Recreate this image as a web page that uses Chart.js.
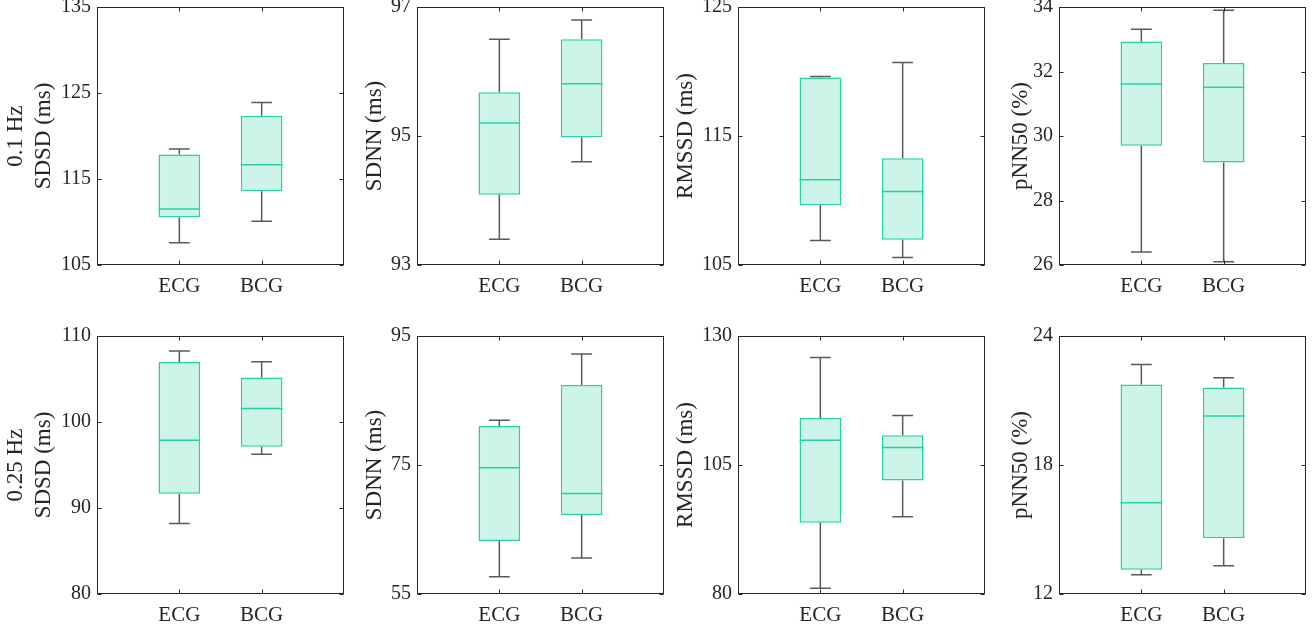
<!DOCTYPE html>
<html>
<head>
<meta charset="utf-8">
<script src="https://cdn.jsdelivr.net/npm/chart.js@4.4.1/dist/chart.umd.min.js"></script>
<style>
  html, body { margin: 0; padding: 0; background: #fff; overflow: hidden; }
  body { position: relative; width: 1314px; height: 629px; }
  .panel { position: absolute; }
</style>
</head>
<body>
<script>
// Box plot data: [lower whisker, Q1, median, Q3, upper whisker]
const categories = ['ECG', 'BCG'];

// 0.1 Hz
const sdsd01Ecg = [107.6, 110.55, 111.5, 117.85, 118.5];
const sdsd01Bcg = [110.1, 113.57, 116.65, 122.35, 123.9];
const sdnn01Ecg = [93.4, 94.09, 95.2, 95.68, 96.5];
const sdnn01Bcg = [94.6, 94.98, 95.81, 96.5, 96.8];
const rmssd01Ecg = [106.9, 109.63, 111.6, 119.54, 119.62];
const rmssd01Bcg = [105.59, 106.96, 110.7, 113.28, 120.7];
const pnn01Ecg = [26.4, 29.7, 31.61, 32.93, 33.31];
const pnn01Bcg = [26.1, 29.18, 31.51, 32.26, 33.9];

// 0.25 Hz
const sdsd025Ecg = [88.2, 91.65, 97.88, 106.98, 108.26];
const sdsd025Bcg = [96.26, 97.11, 101.56, 105.16, 107.02];
const sdnn025Ecg = [57.68, 63.21, 74.56, 81.06, 81.94];
const sdnn025Bcg = [60.57, 67.23, 70.59, 87.41, 92.21];
const rmssd025Ecg = [81.1, 93.81, 109.81, 114.13, 125.81];
const rmssd025Bcg = [94.97, 102.0, 108.39, 110.77, 114.58];
const pnn025Ecg = [12.9, 13.13, 16.24, 21.74, 22.68];
const pnn025Bcg = [13.31, 14.59, 20.28, 21.6, 22.06];

// y tick labels per panel
const ticksSdsd01 = [105, 115, 125, 135];
const ticksSdnn01 = [93, 95, 97];
const ticksRmssd01 = [105, 115, 125];
const ticksPnn01 = [26, 28, 30, 32, 34];
const ticksSdsd025 = [80, 90, 100, 110];
const ticksSdnn025 = [55, 75, 95];
const ticksRmssd025 = [80, 105, 130];
const ticksPnn025 = [12, 18, 24];

const titles = [
  ['0.1 Hz', 'SDSD (ms)'], 'SDNN (ms)', 'RMSSD (ms)', 'pNN50 (%)',
  ['0.25 Hz', 'SDSD (ms)'], 'SDNN (ms)', 'RMSSD (ms)', 'pNN50 (%)'
];

const EDGE = '#22d4a3';
const FILL = '#cdf4e9';
const WHISKER = '#5a5a5a';
const AXIS = '#262626';
const FONT = "'Liberation Serif', 'Times New Roman', serif";

const plotLefts = [97, 417, 738, 1059];
const plotTops = [7, 336];
const plotW = 247, plotH = 258;
const axisW = 97, padTop = 20, axisH = 45, padRight = 10;
const titlePads = [2, 41, 31, 45];

const panels = [
  { ecg: sdsd01Ecg, bcg: sdsd01Bcg, ticks: ticksSdsd01 },
  { ecg: sdnn01Ecg, bcg: sdnn01Bcg, ticks: ticksSdnn01 },
  { ecg: rmssd01Ecg, bcg: rmssd01Bcg, ticks: ticksRmssd01 },
  { ecg: pnn01Ecg, bcg: pnn01Bcg, ticks: ticksPnn01 },
  { ecg: sdsd025Ecg, bcg: sdsd025Bcg, ticks: ticksSdsd025 },
  { ecg: sdnn025Ecg, bcg: sdnn025Bcg, ticks: ticksSdnn025 },
  { ecg: rmssd025Ecg, bcg: rmssd025Bcg, ticks: ticksRmssd025 },
  { ecg: pnn025Ecg, bcg: pnn025Bcg, ticks: ticksPnn025 }
];

// whiskers, medians, frame and inward ticks
function boxParts(stats) {
  return {
    id: 'boxParts',
    afterDatasetsDraw(chart) {
      const { ctx, scales: { y } } = chart;
      const meta = chart.getDatasetMeta(0);
      meta.data.forEach((bar, i) => {
        const s = stats[i];
        if (!s) return;
        const [lo, q1, med, q3, hi] = s;
        const half = bar.width / 2;
        const cap = bar.width / 4;
        ctx.save();
        ctx.lineWidth = 1.5;
        ctx.strokeStyle = WHISKER;
        ctx.beginPath();
        ctx.moveTo(bar.x, y.getPixelForValue(lo));
        ctx.lineTo(bar.x, y.getPixelForValue(q1));
        ctx.moveTo(bar.x, y.getPixelForValue(q3));
        ctx.lineTo(bar.x, y.getPixelForValue(hi));
        ctx.moveTo(bar.x - cap, y.getPixelForValue(lo));
        ctx.lineTo(bar.x + cap, y.getPixelForValue(lo));
        ctx.moveTo(bar.x - cap, y.getPixelForValue(hi));
        ctx.lineTo(bar.x + cap, y.getPixelForValue(hi));
        ctx.stroke();
        ctx.strokeStyle = EDGE;
        ctx.beginPath();
        ctx.moveTo(bar.x - half, y.getPixelForValue(med));
        ctx.lineTo(bar.x + half, y.getPixelForValue(med));
        ctx.stroke();
        ctx.restore();
      });
    },
    afterDraw(chart) {
      const { ctx, chartArea: a, scales: { x, y } } = chart;
      const L = Math.round(a.left) + 0.5, R = Math.round(a.right) - 0.5;
      const T = Math.round(a.top) + 0.5, B = Math.round(a.bottom) - 0.5;
      ctx.save();
      ctx.strokeStyle = AXIS;
      ctx.lineWidth = 1;
      ctx.strokeRect(L, T, R - L, B - T);
      ctx.beginPath();
      y.ticks.forEach(t => {
        const py = Math.round(y.getPixelForValue(t.value)) + 0.5;
        ctx.moveTo(L, py); ctx.lineTo(L + 4, py);
        ctx.moveTo(R, py); ctx.lineTo(R - 4, py);
      });
      [1, 2].forEach(i => {
        const px = Math.round(x.getPixelForValue(i)) + 0.5;
        ctx.moveTo(px, B); ctx.lineTo(px, B - 4);
        ctx.moveTo(px, T); ctx.lineTo(px, T + 4);
      });
      ctx.stroke();
      ctx.restore();
    }
  };
}

panels.forEach((p, k) => {
  const col = k % 4, row = Math.floor(k / 4);
  const div = document.createElement('div');
  div.className = 'panel';
  div.style.left = (plotLefts[col] - axisW) + 'px';
  div.style.top = (plotTops[row] - padTop) + 'px';
  const canvas = document.createElement('canvas');
  canvas.width = axisW + plotW + padRight;
  canvas.height = padTop + plotH + axisH;
  div.appendChild(canvas);
  document.body.appendChild(div);

  const labels = ['', ...categories, ''];
  const stats = [null, p.ecg, p.bcg, null];
  const boxes = stats.map(s => s ? [s[1], s[3]] : null);

  new Chart(canvas, {
    type: 'bar',
    data: {
      labels,
      datasets: [{
        data: boxes,
        backgroundColor: FILL,
        borderColor: EDGE,
        borderWidth: 1.5,
        borderSkipped: false,
        categoryPercentage: 1,
        barPercentage: 0.505
      }]
    },
    options: {
      responsive: false,
      animation: false,
      devicePixelRatio: 1,
      layout: { padding: { top: padTop, right: padRight, left: 0, bottom: 0 } },
      plugins: { legend: { display: false }, tooltip: { enabled: false } },
      scales: {
        x: {
          type: 'category',
          offset: false,
          grid: { display: false, drawTicks: false },
          border: { display: false },
          ticks: {
            autoSkip: false,
            maxRotation: 0,
            padding: 9,
            color: AXIS,
            font: { family: FONT, size: 21 }
          },
          afterFit(scale) { scale.height = axisH; }
        },
        y: {
          min: p.ticks[0],
          max: p.ticks[p.ticks.length - 1],
          grid: { display: false, drawTicks: false },
          border: { display: false },
          afterBuildTicks(axis) { axis.ticks = p.ticks.map(v => ({ value: v })); },
          ticks: {
            padding: 6,
            color: AXIS,
            font: { family: FONT, size: 20 }
          },
          title: {
            display: true,
            text: titles[k],
            color: AXIS,
            font: { family: FONT, size: 23, lineHeight: 28 / 23 },
            padding: { top: titlePads[col], bottom: 0 }
          },
          afterFit(scale) { scale.width = axisW; }
        }
      }
    },
    plugins: [boxParts(stats)]
  });
});
</script>
</body>
</html>
